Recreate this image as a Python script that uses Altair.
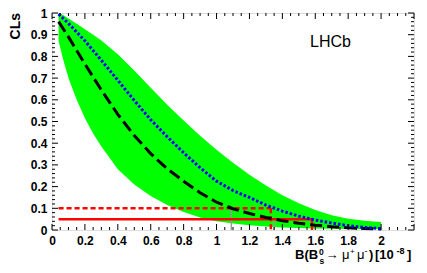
import altair as alt
import pandas as pd
import numpy as np

# ---- data ----
x_grid = [0.04, 0.1, 0.2, 0.3, 0.4, 0.5, 0.6, 0.7, 0.8, 0.9, 1.0, 1.1, 1.2, 1.3, 1.4, 1.5, 1.6, 1.7, 1.8, 1.9, 2.0]
cls_observed = [0.995, 0.952, 0.872, 0.782, 0.69, 0.597, 0.508, 0.43, 0.356, 0.287, 0.225, 0.182, 0.15, 0.115, 0.087, 0.064, 0.046, 0.032, 0.02, 0.012, 0.006]
cls_expected = [0.96, 0.89, 0.765, 0.645, 0.533, 0.435, 0.352, 0.282, 0.225, 0.172, 0.128, 0.098, 0.076, 0.058, 0.043, 0.031, 0.022, 0.015, 0.01, 0.007, 0.005]

band_x = [0.04, 0.07, 0.1, 0.15, 0.2, 0.25, 0.3, 0.4, 0.5, 0.6, 0.7, 0.8, 0.9, 1.0, 1.1, 1.2, 1.3, 1.4, 1.5, 1.6, 1.7, 1.8, 1.9, 2.0]
band_hi = [1.0, 0.99, 0.975, 0.95, 0.925, 0.9, 0.873, 0.81, 0.735, 0.655, 0.577, 0.505, 0.434, 0.37, 0.31, 0.255, 0.205, 0.16, 0.123, 0.092, 0.068, 0.052, 0.043, 0.037]
band_lo = [0.87, 0.78, 0.70, 0.60, 0.515, 0.445, 0.385, 0.28, 0.21, 0.157, 0.115, 0.083, 0.058, 0.04, 0.03, 0.022, 0.016, 0.012, 0.009, 0.007, 0.006, 0.005, 0.005, 0.005]

scan_start = 0.04
cl_levels = [0.10, 0.05]          # 90% and 95% CL
obs_limits = [1.33, 1.58]         # observed upper limits
exp_limits = [1.09, 1.35]         # expected limits (grey markers)

x_ticks_major = [round(0.2 * i, 1) for i in range(12)]
x_ticks_minor = [round(0.05 * i, 2) for i in range(45) if i % 4 != 0]
y_ticks_major = [round(0.1 * i, 1) for i in range(11)]
y_ticks_minor = [round(0.02 * i, 2) for i in range(51) if i % 5 != 0]
x_labels = [round(0.2 * i, 1) for i in range(11)]

W, H = 362, 217
FONT = "Liberation Sans"

curves = pd.DataFrame({"x": x_grid, "obs": cls_observed, "exp": cls_expected})
band = pd.DataFrame({"x": band_x, "lo": band_lo, "hi": band_hi})
lims = pd.DataFrame({"x0": [scan_start] * 2, "lim": obs_limits, "lvl": cl_levels,
                     "kind": ["90", "95"]})
exps = pd.DataFrame({"lim": exp_limits, "lvl": cl_levels})

xs = alt.Scale(domain=[0, 2.2], nice=False, zero=False)
ys = alt.Scale(domain=[0, 1], nice=False, zero=False)

xax = alt.Axis(values=x_labels, format="~g", labelFont=FONT, labelFontSize=12,
               labelFontWeight="bold", labelColor="black", tickSize=0, domain=False,
               grid=False, title=None, labelPadding=5, labelFlush=False, labelOverlap=False)
yax = alt.Axis(values=y_ticks_major, format="~g", labelFont=FONT, labelFontSize=12,
               labelFontWeight="bold", labelColor="black", tickSize=0, domain=False,
               grid=False, title=None, labelPadding=5, labelFlush=False, labelOverlap=False)


def X(f):
    return alt.X(f, type="quantitative", scale=xs, axis=xax)


def Y(f):
    return alt.Y(f, type="quantitative", scale=ys, axis=yax)


band_layer = alt.Chart(band).mark_area(color="#00ff00", opacity=1).encode(
    x=X("x"), y=Y("lo"), y2="hi")

grey = alt.Chart(exps).mark_rule(color="#999999", strokeWidth=1.5).encode(
    x=X("lim"), y=Y("lvl"), y2=alt.datum(0))

red90_h = alt.Chart(lims[lims.kind == "90"]).mark_rule(
    color="#ff0000", strokeWidth=2.5, strokeDash=[5, 3]).encode(
    x=X("x0"), x2="lim", y=Y("lvl"))
red90_v = alt.Chart(lims[lims.kind == "90"]).mark_rule(
    color="#ff0000", strokeWidth=2.5, strokeDash=[5, 3]).encode(
    x=X("lim"), y=Y("lvl"), y2=alt.datum(0))
red95_h = alt.Chart(lims[lims.kind == "95"]).mark_rule(
    color="#ff0000", strokeWidth=2.5).encode(
    x=X("x0"), x2="lim", y=Y("lvl"))
red95_v = alt.Chart(lims[lims.kind == "95"]).mark_rule(
    color="#ff0000", strokeWidth=2.5).encode(
    x=X("lim"), y=Y("lvl"), y2=alt.datum(0))

exp_line = alt.Chart(curves).mark_line(color="black", strokeWidth=3, strokeDash=[12, 5]).encode(
    x=X("x"), y=Y("exp"))
obs_line = alt.Chart(curves).mark_line(color="#0000ff", strokeWidth=3, strokeDash=[2.5, 2]).encode(
    x=X("x"), y=Y("obs"))


def xticks(vals, L):
    d = pd.DataFrame({"v": vals})
    b = alt.Chart(d).mark_rule(color="black", strokeWidth=1).encode(
        x=X("v"), y=alt.value(H), y2=alt.value(H - L))
    t = alt.Chart(d).mark_rule(color="black", strokeWidth=1).encode(
        x=X("v"), y=alt.value(0), y2=alt.value(L))
    return [b, t]


def yticks(vals, L):
    d = pd.DataFrame({"v": vals})
    l = alt.Chart(d).mark_rule(color="black", strokeWidth=1).encode(
        y=Y("v"), x=alt.value(0), x2=alt.value(L))
    r = alt.Chart(d).mark_rule(color="black", strokeWidth=1).encode(
        y=Y("v"), x=alt.value(W), x2=alt.value(W - L))
    return [l, r]


def txt(s, x, y, size, bold=True, angle=0, align="left"):
    kw = dict(align=align, baseline="alphabetic", fontSize=size,
              fontWeight="bold" if bold else "normal", font=FONT, color="black")
    if angle:
        kw["angle"] = angle
    return alt.Chart(pd.DataFrame({"t": [s]})).mark_text(**kw).encode(
        x=alt.value(x), y=alt.value(y), text="t:N")


texts = [
    txt("LHCb", 258, 33.7, 16, bold=False),
    txt("CLs", -32, 0, 14, angle=270, align="right"),
    txt("B(B", 243, 246, 13),
    txt("0", 267, 241.5, 8.5),
    txt("s", 267.5, 251, 8.5),
    txt("\u2192", 273.5, 246, 13, bold=False),
    txt("\u03bc", 290, 246, 13, bold=False),
    txt("+", 298, 240.5, 8, bold=False),
    txt("\u03bc", 305, 246, 13, bold=False),
    txt("-", 312.5, 240.5, 9, bold=False),
    txt(")", 317, 246, 13),
    txt("[10", 323, 246, 13),
    txt("-8", 344.5, 240.5, 9),
    txt("]", 355, 246, 13),
]

layers = [band_layer, grey, red90_h, red90_v, red95_h, red95_v, exp_line, obs_line]
layers += xticks(x_ticks_major, 6) + xticks(x_ticks_minor, 3)
layers += yticks(y_ticks_major, 6) + yticks(y_ticks_minor, 3)
layers += texts

chart = alt.layer(*layers).properties(
    width=W, height=H,
    autosize=alt.AutoSizeParams(type="none"),
    padding={"left": 44, "top": 5, "right": 5, "bottom": 35},
).configure_view(stroke="black", strokeWidth=1.2).configure(background="white")

chart.save("out.html", embed_options={"renderer": "svg", "actions": False})
